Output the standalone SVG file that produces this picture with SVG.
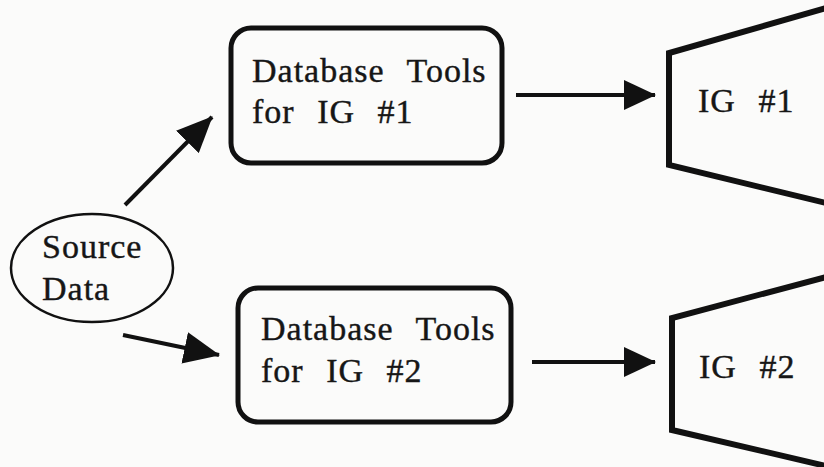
<svg xmlns="http://www.w3.org/2000/svg" width="824" height="467" viewBox="0 0 824 467">
  <style>
    .bg { fill: #fbfbfa; }
    .box { fill: none; stroke: #111; stroke-width: 5; }
    .ig { fill: none; stroke: #111; stroke-width: 6; stroke-linejoin: miter; }
    .oval { fill: none; stroke: #111; stroke-width: 2.5; }
    .lbl { font-family: "Liberation Serif", "Times New Roman", serif; font-size: 34px; fill: #161616; stroke: #161616; stroke-width: 0.4px; letter-spacing: 1px; word-spacing: 13px; }
    .edge { stroke: #111; stroke-width: 4; fill: none; }
  </style>
  <defs>
    <marker id="head" viewBox="0 0 32 30" refX="31" refY="15" markerWidth="32" markerHeight="30" markerUnits="userSpaceOnUse" orient="auto">
      <path d="M0,0 L32,15 L0,30 z" fill="#111"/>
    </marker>
    <marker id="head-lg" viewBox="0 0 36 32" refX="35" refY="16" markerWidth="36" markerHeight="32" markerUnits="userSpaceOnUse" orient="auto">
      <path d="M0,0 L36,16 L0,32 z" fill="#111"/>
    </marker>
  </defs>

  <rect class="bg" x="0" y="0" width="824" height="467"/>

  <g id="source-data">
    <ellipse class="oval" cx="92" cy="268" rx="81" ry="54"/>
    <text class="lbl" x="42" y="258">Source</text>
    <text class="lbl" x="42" y="300">Data</text>
  </g>

  <g id="db-tools-1">
    <rect class="box" x="231" y="28" width="271" height="135" rx="20"/>
    <text class="lbl" x="252" y="82">Database Tools</text>
    <text class="lbl" x="252" y="123">for IG #1</text>
  </g>

  <g id="db-tools-2">
    <rect class="box" x="238" y="288" width="273" height="134" rx="20"/>
    <text class="lbl" x="261" y="340">Database Tools</text>
    <text class="lbl" x="261" y="382">for IG #2</text>
  </g>

  <g id="ig-1">
    <polyline class="ig" points="826,8 669,53 669,165 826,203"/>
    <text class="lbl" x="698" y="112">IG #1</text>
  </g>

  <g id="ig-2">
    <polyline class="ig" points="826,277 672,318 672,430 826,466"/>
    <text class="lbl" x="699" y="378">IG #2</text>
  </g>

  <g id="connectors">
    <line class="edge" x1="125" y1="205" x2="212" y2="117" marker-end="url(#head-lg)"/>
    <line class="edge" x1="123" y1="335" x2="219" y2="355" marker-end="url(#head-lg)"/>
    <line class="edge" x1="516" y1="95" x2="655" y2="95" marker-end="url(#head)"/>
    <line class="edge" x1="532" y1="362" x2="655" y2="362" marker-end="url(#head)"/>
  </g>
</svg>
